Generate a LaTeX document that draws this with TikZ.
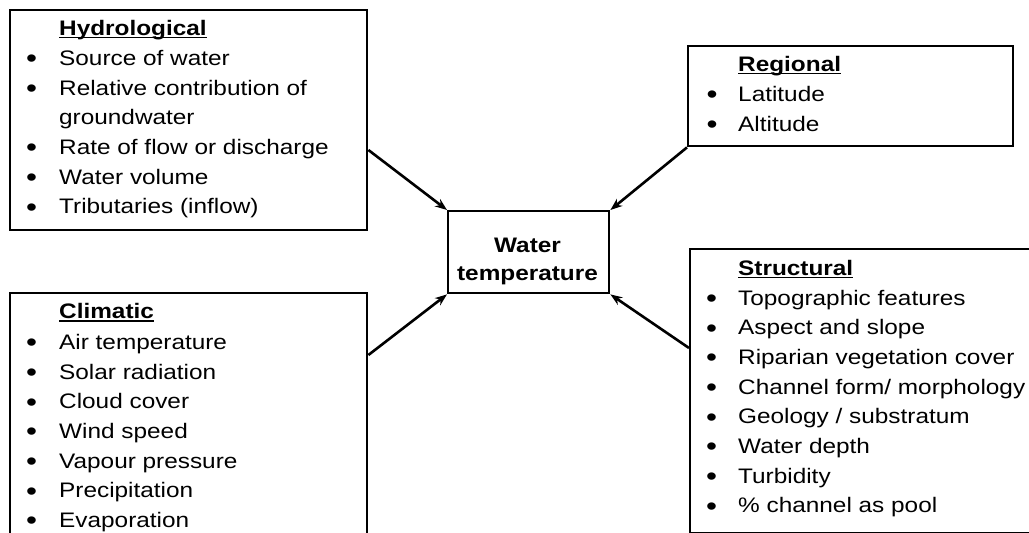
\documentclass[tikz,border=0pt]{standalone}
\usepackage{fontspec}
\setmainfont[FakeStretch=1.16]{Liberation Sans}
\usetikzlibrary{arrows.meta,calc}
\tikzset{
  box/.style={draw, line width=2.4pt, inner sep=0pt, anchor=north west},
  txt/.style={inner sep=0pt, anchor=base west, font=\fontsize{21}{25}\selectfont},
  bul/.style={inner sep=0pt, anchor=base, yshift=-2.5pt, font=\fontsize{27}{25}\selectfont},
  head/.style={inner sep=0pt, anchor=base west, font=\fontsize{21}{25}\selectfont\bfseries},
  ctrtxt/.style={inner sep=0pt, anchor=base, font=\fontsize{21}{25}\selectfont\bfseries},
  uline/.style={line width=1.6pt},
  arr/.style={line width=2.6pt, -{Stealth[length=12pt,width=9pt]}},
}
\newcommand\li[5]{\node[bul] (#1b) at (#2,#4) {\textbullet}; \node[txt] (#1) at (#3,#4) {#5};}
\newcommand\hd[4]{\node[head] (#1) at (#2,#3) {#4};
  \draw[uline] ([yshift=-2.6pt]#1.base west) -- ([yshift=-2.6pt]#1.base east);}
\begin{document}
\begin{tikzpicture}[x=1pt,y=-1pt]
\clip (0,0) rectangle (1029,533);
\fill[white] (0,0) rectangle (1029,533);

% boxes
\node[box, minimum width=357pt, minimum height=220pt] (hyd) at (9,9) {};
\node[box, minimum width=357pt, minimum height=260pt] (cli) at (9,292) {};
\node[box, minimum width=325pt, minimum height=100pt] (reg) at (687,45) {};
\node[box, minimum width=360pt, minimum height=284pt] (str) at (689,248) {};
\node[box, minimum width=161pt, minimum height=82pt] (ctr) at (447,210) {};

% center text
\node[ctrtxt] (ctr1) at (527.5,252) {Water};
\node[ctrtxt] (ctr2) at (527.5,280) {temperature};

% Hydrological
\hd{hydh}{59}{35}{Hydrological}
\li{hyd1}{31.5}{59}{65}{Source of water}
\li{hyd2}{31.5}{59}{95}{Relative contribution of}
\node[txt] (hyd2b) at (59,124.5) {groundwater};
\li{hyd3}{31.5}{59}{154}{Rate of flow or discharge}
\li{hyd4}{31.5}{59}{184}{Water volume}
\li{hyd5}{31.5}{59}{213.5}{Tributaries (inflow)}

% Climatic
\hd{clih}{59}{318.5}{Climatic}
\li{cli1}{31.5}{59}{349}{Air temperature}
\li{cli2}{31.5}{59}{379}{Solar radiation}
\li{cli3}{31.5}{59}{408.5}{Cloud cover}
\li{cli4}{31.5}{59}{438}{Wind speed}
\li{cli5}{31.5}{59}{468}{Vapour pressure}
\li{cli6}{31.5}{59}{497.5}{Precipitation}
\li{cli7}{31.5}{59}{527}{Evaporation}

% Regional
\hd{regh}{738}{71}{Regional}
\li{reg1}{712}{738}{101}{Latitude}
\li{reg2}{712}{738}{131}{Altitude}

% Structural
\hd{strh}{738}{275}{Structural}
\li{str1}{711.5}{738}{305}{Topographic features}
\li{str2}{711.5}{738}{334.5}{Aspect and slope}
\li{str3}{711.5}{738}{364}{Riparian vegetation cover}
\li{str4}{711.5}{738}{394}{Channel form/ morphology}
\li{str5}{711.5}{738}{423.5}{Geology / substratum}
\li{str6}{711.5}{738}{453}{Water depth}
\li{str7}{711.5}{738}{483}{Turbidity}
\li{str8}{711.5}{738}{512.5}{\% channel as pool}

% arrows
\draw[arr] ($(hyd.north east)+(0,141)$) -- (ctr.north west);
\draw[arr] ($(cli.north east)+(0,63)$) -- (ctr.south west);
\draw[arr] (reg.south west) -- (ctr.north east);
\draw[arr] ($(str.north west)+(0,100)$) -- (ctr.south east);
\end{tikzpicture}
\end{document}
